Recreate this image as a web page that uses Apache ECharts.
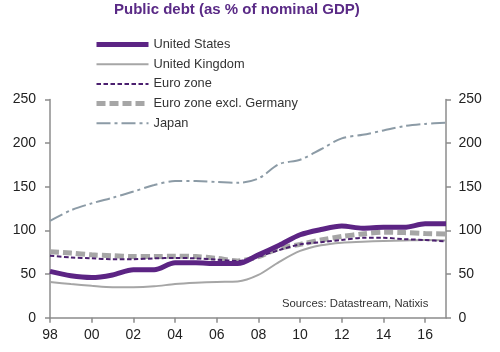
<!DOCTYPE html>
<html>
<head>
<meta charset="utf-8">
<script src="https://cdn.jsdelivr.net/npm/echarts@6/dist/echarts.min.js"></script>
<style>
  html, body { margin: 0; padding: 0; background: #fff; }
  #chart { width: 500px; height: 352px; }
</style>
</head>
<body>
<div id="chart"></div>
<script>
// years 1998..2017, labels shown every other year
const years = ['98', '99', '00', '01', '02', '03', '04', '05', '06', '07',
  '08', '09', '10', '11', '12', '13', '14', '15', '16', '17']

const unitedStates = [53, 48, 46, 49, 55, 55, 63, 63, 62, 62, 72, 83, 95, 101, 105, 102.5, 103.5, 103.5, 107.5, 107.5]
const unitedKingdom = [41, 38.5, 36.5, 35, 35, 36, 38.5, 40, 41, 41.5, 49, 64, 76.5, 83, 86, 87, 88, 88.5, 89, 88.5]
const euroZone = [71, 69, 68, 67, 67, 68, 68.5, 68, 66.5, 65, 70, 77.5, 84, 86.5, 89, 91.5, 91.5, 90, 89, 87.5]
const euroExGermany = [75.5, 74, 72, 71, 70, 70, 70.5, 70, 68, 65, 70, 79.5, 84, 89, 93, 96, 98, 97.5, 96.5, 96]
const japan = [111, 123, 131, 137.5, 144.5, 152, 156.5, 156.5, 155.5, 154.5, 159.5, 176, 181, 193, 205.5, 209.5, 214.5, 219.5, 222, 223.5]

const font = '"Liberation Sans", Arial, sans-serif'
const chart = echarts.init(document.getElementById('chart'))

function yAxis(position, margin) {
  return {
    type: 'value',
    position: position,
    min: 0,
    max: 250,
    interval: 50,
    splitLine: { show: false },
    axisLine: { show: true, lineStyle: { color: '#8c8c8c', width: 1.5 } },
    axisTick: { show: true, length: 5, lineStyle: { color: '#8c8c8c', width: 1.5 } },
    axisLabel: { color: '#222', fontSize: 14, fontFamily: font, margin: margin }
  }
}

// hide the legend symbol, keep the line
const noSymbol = { opacity: 0 }

chart.setOption({
  animation: false,
  title: {
    text: 'Public debt (as % of nominal GDP)',
    left: 114,
    top: 2,
    padding: 0,
    textStyle: { color: '#5a2a86', fontSize: 15, fontWeight: 'bold', fontFamily: font }
  },
  legend: {
    orient: 'vertical',
    left: 94,
    top: 38,
    padding: 0,
    itemWidth: 52,
    itemHeight: 14,
    itemGap: 6.7,
    textStyle: { color: '#333', fontSize: 12.8, fontFamily: font },
    data: [
      { name: 'United States', lineStyle: { width: 5 }, itemStyle: noSymbol },
      { name: 'United Kingdom', lineStyle: { width: 2 }, itemStyle: noSymbol },
      { name: 'Euro zone', lineStyle: { width: 2 }, itemStyle: noSymbol },
      { name: 'Euro zone excl. Germany', lineStyle: { width: 5 }, itemStyle: noSymbol },
      { name: 'Japan', lineStyle: { width: 2 }, itemStyle: noSymbol }
    ]
  },
  grid: { left: 50, right: 54, top: 99.5, bottom: 34.3 },
  xAxis: {
    type: 'category',
    data: years,
    boundaryGap: false,
    axisLine: { lineStyle: { color: '#8c8c8c', width: 1.5 } },
    axisTick: { interval: 1, length: 5, lineStyle: { color: '#8c8c8c', width: 1.5 } },
    axisLabel: { interval: 1, color: '#222', fontSize: 14, fontFamily: font, margin: 10 }
  },
  yAxis: [yAxis('left', 14), yAxis('right', 12.5)],
  graphic: [{
    type: 'text',
    left: 282,
    top: 298.5,
    style: { text: 'Sources: Datastream, Natixis', fill: '#333', font: '11.3px ' + font }
  }],
  series: [
    {
      name: 'Japan', type: 'line', data: japan, symbol: 'none', smooth: 0.3, z: 1,
      lineStyle: { color: '#8c9ba6', width: 2, type: [14, 4, 3, 4] },
      itemStyle: { color: '#8c9ba6' }
    },
    {
      name: 'United Kingdom', type: 'line', data: unitedKingdom, symbol: 'none', smooth: 0.3, z: 2,
      lineStyle: { color: '#a6a6a6', width: 2 },
      itemStyle: { color: '#a6a6a6' }
    },
    {
      name: 'Euro zone excl. Germany', type: 'line', data: euroExGermany, symbol: 'none', smooth: 0.3, z: 3,
      lineStyle: { color: '#a6a6a6', width: 5, type: [9, 4] },
      itemStyle: { color: '#a6a6a6' }
    },
    {
      name: 'Euro zone', type: 'line', data: euroZone, symbol: 'none', smooth: 0.3, z: 4,
      lineStyle: { color: '#4b1f6f', width: 2, type: [4.5, 2.5] },
      itemStyle: { color: '#4b1f6f' }
    },
    {
      name: 'United States', type: 'line', data: unitedStates, symbol: 'none', smooth: 0.3, z: 5,
      lineStyle: { color: '#5c2484', width: 5 },
      itemStyle: { color: '#5c2484' }
    }
  ]
})
</script>
</body>
</html>
